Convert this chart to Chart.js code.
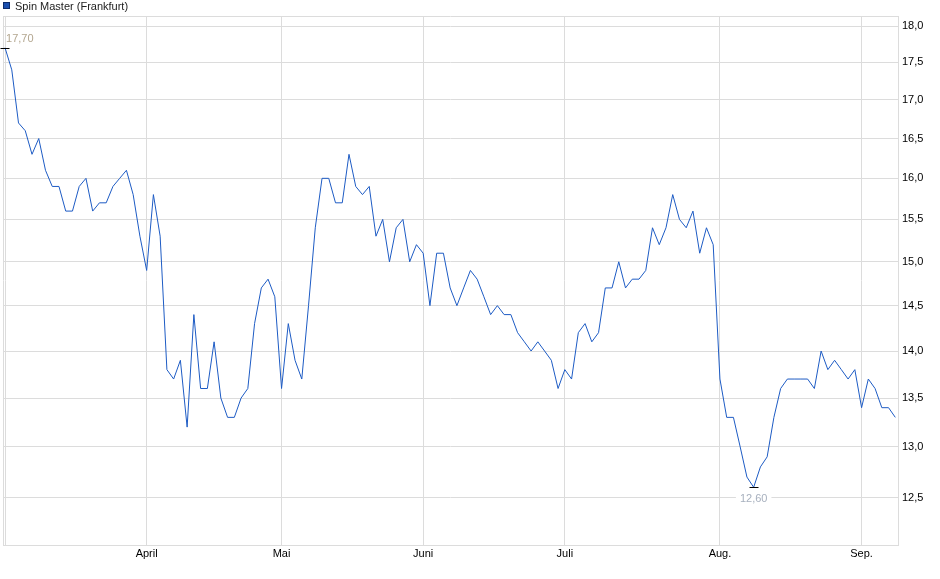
<!DOCTYPE html>
<html>
<head>
<meta charset="utf-8">
<script src="https://cdn.jsdelivr.net/npm/chart.js@4/dist/chart.umd.min.js"></script>
<style>
  html, body { margin: 0; padding: 0; background: #fff; }
  #wrap { width: 940px; height: 579px; }
</style>
</head>
<body>
<div id="wrap"><canvas id="chart" width="940" height="579"></canvas></div>
<script>
// Spin Master (Frankfurt), daily closes
const prices = [
  17.7, 17.4, 16.7, 16.6, 16.3, 16.5, 16.1, 15.9, 15.9, 15.6,
  15.6, 15.9, 16.0, 15.6, 15.7, 15.7, 15.9, 16.0, 16.1, 15.8,
  15.3, 14.9, 15.8, 15.3, 13.8, 13.7, 13.9, 13.2, 14.4, 13.6,
  13.6, 14.1, 13.5, 13.3, 13.3, 13.5, 13.6, 14.3, 14.7, 14.8,
  14.6, 13.6, 14.3, 13.9, 13.7, 14.5, 15.4, 16.0, 16.0, 15.7,
  15.7, 16.3, 15.9, 15.8, 15.9, 15.3, 15.5, 15.0, 15.4, 15.5,
  15.0, 15.2, 15.1, 14.5, 15.1, 15.1, 14.7, 14.5, 14.7, 14.9,
  14.8, 14.6, 14.4, 14.5, 14.4, 14.4, 14.2, 14.1, 14.0, 14.1,
  14.0, 13.9, 13.6, 13.8, 13.7, 14.2, 14.3, 14.1, 14.2, 14.7,
  14.7, 15.0, 14.7, 14.8, 14.8, 14.9, 15.4, 15.2, 15.4, 15.8,
  15.5, 15.4, 15.6, 15.1, 15.4, 15.2, 13.7, 13.3, 13.3, 13.0,
  12.7, 12.6, 12.8, 12.9, 13.3, 13.6, 13.7, 13.7, 13.7, 13.7,
  13.6, 14.0, 13.8, 13.9, 13.8, 13.7, 13.8, 13.4, 13.7, 13.6,
  13.4, 13.4, 13.3
];

// index of the first trading day of each month
const monthStarts = [21, 41, 62, 83, 106, 127];
const monthLabels = ["April", "Mai", "Juni", "Juli", "Aug.", "Sep."];

const yTicks = [12.5, 13.0, 13.5, 14.0, 14.5, 15.0, 15.5, 16.0, 16.5, 17.0, 17.5, 18.0];

const FONT = '"Liberation Sans", Arial, sans-serif';
const GRID = "#dcdcdc";
const LINE = "#1d5bc4";
const X_MIN = -0.3, X_MAX = 132.4;
const Y_MIN = 12.05, Y_MAX = 18.14;

function fmt(v, digits) {
  return v.toFixed(digits).replace(".", ",");
}

// legend box + min/max markers like the finanzen-style chart
const extrasPlugin = {
  id: "extras",
  afterDraw(chart) {
    const ctx = chart.ctx;
    ctx.save();

    // legend
    ctx.fillStyle = "#1a4fae";
    ctx.fillRect(3, 2, 7, 7);
    ctx.strokeStyle = "#0d2c6b";
    ctx.lineWidth = 1;
    ctx.strokeRect(3.5, 2.5, 6, 6);
    ctx.fillStyle = "#222";
    ctx.font = "11px " + FONT;
    ctx.textBaseline = "middle";
    ctx.textAlign = "left";
    ctx.fillText("Spin Master (Frankfurt)", 15, 6.5);

    const meta = chart.getDatasetMeta(0);
    let hi = 0, lo = 0;
    prices.forEach((v, i) => {
      if (v > prices[hi]) hi = i;
      if (v < prices[lo]) lo = i;
    });

    const pHi = meta.data[hi];
    const pLo = meta.data[lo];

    ctx.strokeStyle = "#000";
    ctx.beginPath();
    ctx.moveTo(Math.round(pHi.x) - 4.5, Math.round(pHi.y) + 0.5);
    ctx.lineTo(Math.round(pHi.x) + 4.5, Math.round(pHi.y) + 0.5);
    ctx.moveTo(Math.round(pLo.x) - 4.5, Math.round(pLo.y) + 0.5);
    ctx.lineTo(Math.round(pLo.x) + 4.5, Math.round(pLo.y) + 0.5);
    ctx.stroke();

    ctx.font = "11px " + FONT;
    ctx.textBaseline = "middle";

    // max label: left aligned, it would be clipped if centred
    ctx.textAlign = "left";
    ctx.fillStyle = "#b3a68f";
    ctx.fillText(fmt(prices[hi], 2), pHi.x + 1, pHi.y - 8.5);

    // min label: centred below, white box over the grid
    const loText = fmt(prices[lo], 2);
    const w = ctx.measureText(loText).width;
    ctx.fillStyle = "#fff";
    ctx.fillRect(pLo.x - w / 2 - 4, pLo.y + 5, w + 8, 12);
    ctx.textAlign = "center";
    ctx.fillStyle = "#a7b0be";
    ctx.fillText(loText, pLo.x, pLo.y + 11.5);

    ctx.restore();
  },
};

new Chart(document.getElementById("chart"), {
  type: "line",
  data: {
    datasets: [
      {
        label: "Spin Master (Frankfurt)",
        data: prices.map((v, i) => ({ x: i, y: v })),
        borderColor: LINE,
        borderWidth: 1,
        pointRadius: 0,
        tension: 0,
        fill: false,
      },
    ],
  },
  options: {
    responsive: false,
    animation: false,
    devicePixelRatio: 1,
    layout: { padding: { left: 3, top: 16, right: 0, bottom: 0 } },
    plugins: { legend: { display: false }, tooltip: { enabled: false } },
    scales: {
      x: {
        type: "linear",
        min: X_MIN,
        max: X_MAX,
        bounds: "data",
        afterBuildTicks: (scale) => {
          scale.ticks = [X_MIN, 0, ...monthStarts, X_MAX].map((v) => ({ value: v }));
        },
        afterFit: (scale) => { scale.height = 34; },
        grid: { color: GRID, drawTicks: false },
        border: { color: GRID },
        ticks: {
          autoSkip: false,
          maxRotation: 0,
          padding: 2,
          color: "#000",
          font: { family: FONT, size: 11 },
          callback: (v) => {
            const k = monthStarts.indexOf(v);
            return k >= 0 ? monthLabels[k] : "";
          },
        },
      },
      y: {
        type: "logarithmic",
        position: "right",
        min: Y_MIN,
        max: Y_MAX,
        bounds: "data",
        afterBuildTicks: (scale) => {
          scale.ticks = [Y_MIN, ...yTicks, Y_MAX].map((v) => ({ value: v }));
        },
        afterFit: (scale) => { scale.width = 42; },
        grid: { color: GRID, drawTicks: false },
        border: { color: GRID },
        ticks: {
          autoSkip: false,
          padding: 4,
          color: "#000",
          font: { family: FONT, size: 11 },
          callback: (v) => (yTicks.includes(v) ? fmt(v, 1) : ""),
        },
      },
    },
  },
  plugins: [extrasPlugin],
});
</script>
</body>
</html>
